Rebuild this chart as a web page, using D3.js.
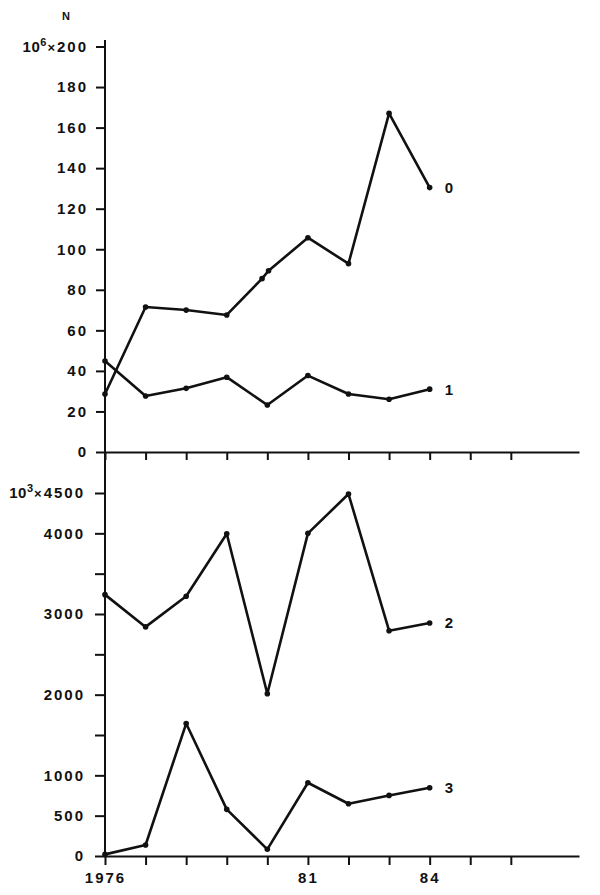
<!DOCTYPE html>
<html>
<head>
<meta charset="utf-8">
<script src="https://cdn.jsdelivr.net/npm/d3@7"></script>
<style>
  body { margin: 0; background: #fff; }
  text { font-family: "Liberation Sans", Arial, sans-serif; font-weight: bold; fill: #111; }
</style>
</head>
<body>
<svg id="chart" width="600" height="895"></svg>
<script>

// ---- data ---------------------------------------------------------------
var years = [1976, 1977, 1978, 1979, 1980, 1981, 1982, 1983, 1984];
var axis_years = [1976, 1977, 1978, 1979, 1980, 1981, 1982, 1983, 1984, 1985, 1986];
var year_labels = {1976: "1976", 1981: "81", 1984: "84"};

// series 0 has an extra reading around 1980
var s0_years  = [1976, 1977, 1978, 1979, 1979.87, 1980.03, 1981, 1982, 1983, 1984];
var s0_values = [28.6, 71.5, 70, 67.6, 85.5, 89.4, 105.7, 92.9, 167, 130.4];
var s1_values = [44.9, 27.6, 31.4, 36.9, 23.2, 37.7, 28.6, 26, 31];

var s2_values = [3240, 2840, 3220, 3995, 2012, 4000, 4487, 2793, 2888];
var s3_values = [20, 136, 1642, 578, 83, 908, 648, 751, 846];

var top_ticks = [0, 20, 40, 60, 80, 100, 120, 140, 160, 180, 200];
var bottom_ticks = [0, 500, 1000, 1500, 2000, 2500, 3000, 3500, 4000, 4500];
var bottom_tick_labels = ["0", "500", "1000", "", "2000", "", "3000", "", "4000", "4500"];
//-------------------------------------------------------------------------

var svg = d3.select("#chart");
var ink = "#111";

var x = d3.scaleLinear().domain([1976, 1987.68]).range([105, 579]);
var y_top = d3.scaleLinear().domain([0, 200]).range([452, 46.5]);
var y_bot = d3.scaleLinear().domain([0, 4500]).range([856, 493]);

function style_axis(g) {
    g.selectAll("path, line").attr("stroke", ink).attr("stroke-width", 2);
    g.selectAll("text")
        .attr("font-size", "15px")
        .attr("letter-spacing", "2px")
        .attr("fill", ink);
}

// left axes (domain drawn once as a single line below)
var yTopAxis = svg.append("g")
    .attr("transform", "translate(105,0)")
    .call(d3.axisLeft(y_top).tickValues(top_ticks).tickSize(9).tickPadding(8))
    .call(style_axis);
yTopAxis.select(".domain").remove();

var yBotAxis = svg.append("g")
    .attr("transform", "translate(105,0)")
    .call(d3.axisLeft(y_bot).tickValues(bottom_ticks).tickSize(10).tickPadding(10)
        .tickFormat((d, i) => bottom_tick_labels[i]))
    .call(style_axis);
yBotAxis.select(".domain").remove();

// prefix the scale factor on the top labels
function add_factor(g, value, power) {
    var t = g.selectAll(".tick").filter(d => d == value).select("text");
    var label = t.text();
    t.text("");
    t.append("tspan").attr("letter-spacing", "0.5px").text("10");
    t.append("tspan").attr("dy", "-6").attr("font-size", "11px").attr("letter-spacing", "1px").text(power);
    t.append("tspan").attr("dy", "6").attr("font-size", "13px").attr("letter-spacing", "2px").text("\u00d7");
    t.append("tspan").text(label);
}
add_factor(yTopAxis, 200, "6");
add_factor(yBotAxis, 4500, "3");

svg.append("line")
    .attr("x1", 105).attr("x2", 105)
    .attr("y1", 40).attr("y2", 857)
    .attr("stroke", ink).attr("stroke-width", 2);

// bottom axes of both panels
var xTopAxis = svg.append("g")
    .attr("transform", "translate(0,452)")
    .call(d3.axisBottom(x).tickValues(axis_years).tickSize(8).tickSizeOuter(0).tickFormat(""))
    .call(style_axis);

var xBotAxis = svg.append("g")
    .attr("transform", "translate(0,856)")
    .call(d3.axisBottom(x).tickValues(axis_years).tickSize(9).tickSizeOuter(0).tickPadding(7)
        .tickFormat(d => year_labels[d] || ""))
    .call(style_axis);

// "N" label
svg.append("text")
    .attr("x", 66).attr("y", 20)
    .attr("text-anchor", "middle")
    .attr("font-size", "11px")
    .text("N");

// ---- series --------------------------------------------------------------
var series = [
    {name: "0", xs: s0_years, ys: s0_values, y: y_top},
    {name: "1", xs: years,    ys: s1_values, y: y_top},
    {name: "2", xs: years,    ys: s2_values, y: y_bot},
    {name: "3", xs: years,    ys: s3_values, y: y_bot}
];

series.forEach(function(s) {
    var pts = s.xs.map((d, i) => [d, s.ys[i]]);
    var line = d3.line().x(d => x(d[0])).y(d => s.y(d[1]));

    svg.append("path")
        .datum(pts)
        .attr("fill", "none")
        .attr("stroke", ink)
        .attr("stroke-width", 2.6)
        .attr("stroke-linejoin", "round")
        .attr("d", line);

    svg.append("g").selectAll("circle")
        .data(pts)
        .enter().append("circle")
        .attr("cx", d => x(d[0]))
        .attr("cy", d => s.y(d[1]))
        .attr("r", 2.8)
        .attr("fill", ink);

    var last = pts[pts.length - 1];
    svg.append("text")
        .attr("x", x(last[0]) + 15)
        .attr("y", s.y(last[1]))
        .attr("dy", "0.36em")
        .attr("font-size", "15px")
        .text(s.name);
});

</script>
</body>
</html>
